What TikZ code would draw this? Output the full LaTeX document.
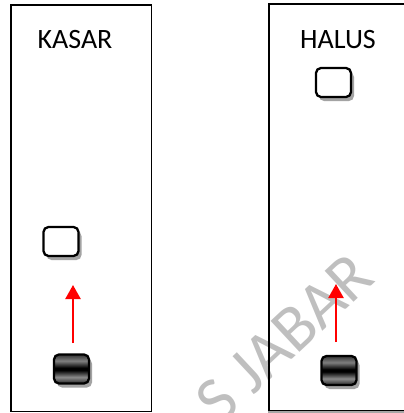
\documentclass[tikz,border=0pt]{standalone}
\usepackage{fontspec}
\setmainfont{Carlito}
\usetikzlibrary{arrows.meta,shadows}
\pgfdeclareverticalshading{btnshade}{100bp}{color(0bp)=(black!85); color(25bp)=(black!85); color(36bp)=(black!45); color(48bp)=(black); color(52bp)=(black); color(64bp)=(black!50); color(75bp)=(black!80); color(100bp)=(black!80)}
\tikzset{
  panel/.style={draw=black, line width=1.5pt, rectangle, inner sep=0pt},
  lbl/.style={font=\fontsize{28}{32}\selectfont, anchor=base, inner sep=0pt},
  btn/.style={rectangle, rounded corners=5pt, line width=2.3pt, draw=black, inner sep=0pt,
    minimum width=35pt, minimum height=29pt,
    drop shadow={shadow xshift=3pt, shadow yshift=-4pt, fill=black!45, opacity=0.8}},
  whitebtn/.style={btn, fill=white},
  darkbtn/.style={btn, shading=btnshade},
  arr/.style={draw=red, line width=2.4pt, -{Triangle[length=14pt,width=15pt]}},
  wm/.style={text=black!25, font=\fontsize{66}{70}\selectfont, inner sep=0pt}
}
\begin{document}
\begin{tikzpicture}[x=1pt,y=-1pt]
\useasboundingbox (0,0) rectangle (404,413);
\clip (0,0) rectangle (404,413);
% watermark
\node[wm, rotate=43] (wm) at (284,338) {S JABAR};
% panels
\node[panel, minimum width=140.5pt, minimum height=406.5pt] (pL) at (81,208) {};
\node[panel, minimum width=160pt, minimum height=407pt] (pR) at (349,207.5) {};
\draw[black!35, line width=1.5pt] (pR.south west) -- (pR.south east);
% labels
\node[lbl] (tK) at (75,48) {KASAR};
\node[lbl] (tH) at (338,48) {HALUS};
% buttons
\node[whitebtn] (wL) at (61,241.5) {};
\node[darkbtn] (dL) at (71.5,369) {};
\node[whitebtn] (wR) at (333.5,82.5) {};
\node[darkbtn] (dR) at (339,370.5) {};
% arrows
\coordinate (aLs) at (73,343);
\coordinate (aLe) at (73,285);
\coordinate (aRs) at (336,342);
\coordinate (aRe) at (336,284);
\draw[arr] (aLs) -- (aLe);
\draw[arr] (aRs) -- (aRe);
\end{tikzpicture}
\end{document}
